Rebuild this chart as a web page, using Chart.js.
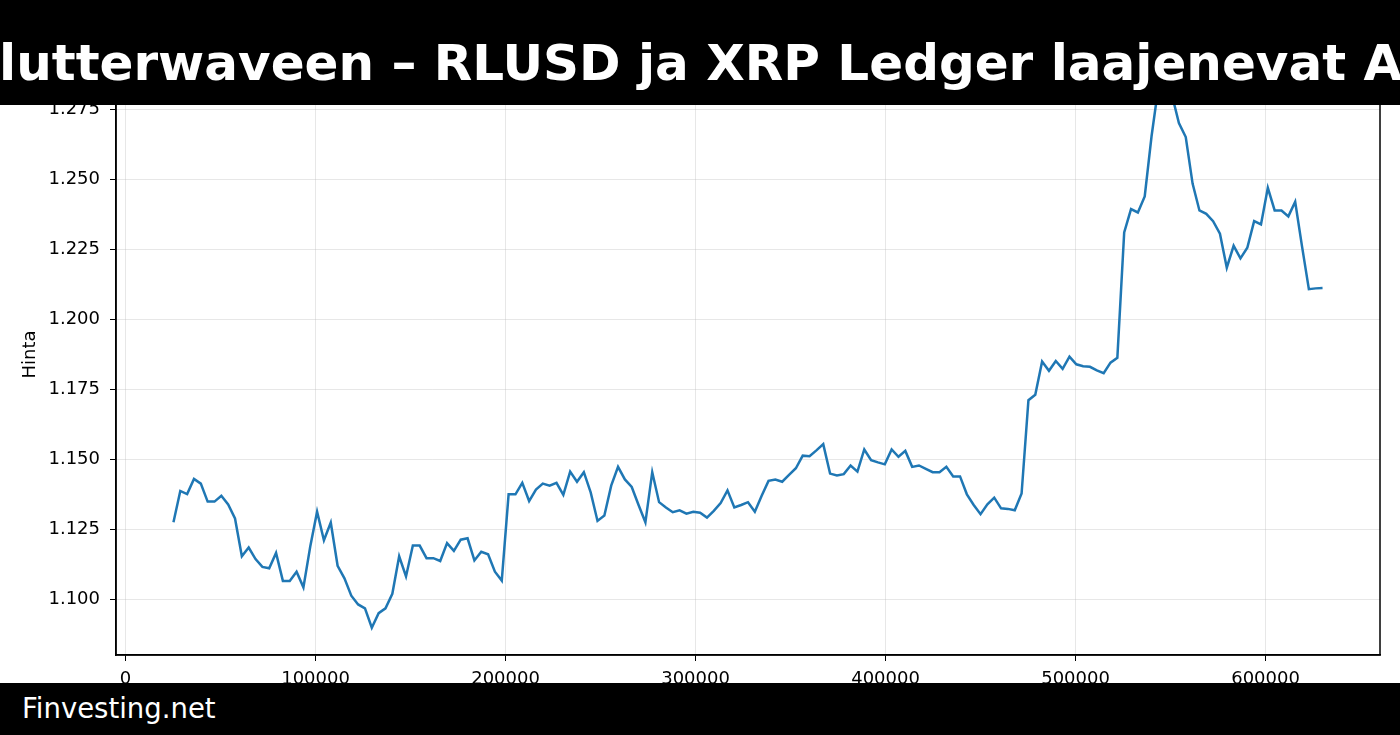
<!DOCTYPE html>
<html>
<head>
<meta charset="utf-8">
<script src="https://cdn.jsdelivr.net/npm/chart.js@4.4.1/dist/chart.umd.min.js"></script>
<style>
    body { margin: 0; background: #fff; overflow: hidden; }
    #wrap { position: relative; width: 1400px; height: 735px; overflow: hidden; }
    #titleBar { position: absolute; left: 0; top: 0; width: 1400px; height: 105px; background: #000; overflow: hidden; }
    #titleText { position: absolute; left: -1px; top: 38px; white-space: nowrap; color: #fff;
        font: bold 50px "DejaVu Sans"; line-height: 50px; }
    #footer { position: absolute; left: 0; top: 683px; width: 1400px; height: 52px; background: #000; }
    #footerText { position: absolute; left: 22px; top: 11px; color: #fff; font: 27.5px "DejaVu Sans"; line-height: 28px; }
</style>
</head>
<body>
<div id="wrap">
    <canvas id="priceChart" width="1400" height="735"></canvas>
    <div id="titleBar"><span id="titleText">lutterwaveen – RLUSD ja XRP Ledger laajenevat A</span></div>
    <div id="footer"><span id="footerText">Finvesting.net</span></div>
</div>
<script>
// hourly samples, x is seconds
const startSeconds = 25200;
const stepSeconds = 3600;

const prices = [
    1.1276, 1.1388, 1.1377, 1.1431, 1.1414, 1.1350, 1.1350, 1.1371, 1.1340, 1.1290,
    1.1155, 1.1186, 1.1145, 1.1117, 1.1112, 1.1167, 1.1067, 1.1067, 1.1100, 1.1044,
    1.1190, 1.1314, 1.1212, 1.1275, 1.1121, 1.1076, 1.1014, 1.0983, 1.0969, 1.0900,
    1.0952, 1.0969, 1.1021, 1.1155, 1.1083, 1.1193, 1.1193, 1.1148, 1.1148, 1.1138,
    1.1202, 1.1174, 1.1214, 1.1219, 1.1140, 1.1171, 1.1162, 1.1100, 1.1068, 1.1376,
    1.1376, 1.1417, 1.1352, 1.1393, 1.1414, 1.1407, 1.1417, 1.1374, 1.1457, 1.1421,
    1.1455, 1.1383, 1.1281, 1.1300, 1.1407, 1.1474, 1.1429, 1.1402, 1.1338, 1.1276,
    1.1455, 1.1348, 1.1329, 1.1312, 1.1319, 1.1307, 1.1314, 1.1310, 1.1293, 1.1317,
    1.1345, 1.1390, 1.1329, 1.1338, 1.1348, 1.1314, 1.1371, 1.1424, 1.1429, 1.1421,
    1.1445, 1.1469, 1.1514, 1.1512, 1.1533, 1.1555, 1.1450, 1.1443, 1.1448, 1.1479,
    1.1457, 1.1536, 1.1498, 1.1490, 1.1483, 1.1536, 1.1510, 1.1531, 1.1474, 1.1479,
    1.1467, 1.1455, 1.1455, 1.1474, 1.1440, 1.1440, 1.1376, 1.1338, 1.1305, 1.1340,
    1.1364, 1.1326, 1.1324, 1.1319, 1.1379, 1.1712, 1.1731, 1.1850, 1.1817, 1.1852,
    1.1824, 1.1867, 1.1840, 1.1833, 1.1831, 1.1818, 1.1808, 1.1846, 1.1863, 1.2311,
    1.2394, 1.2382, 1.2439, 1.2654, 1.2830, 1.2850, 1.2800, 1.2701, 1.2651, 1.2485,
    1.2389, 1.2377, 1.2351, 1.2306, 1.2185, 1.2263, 1.2218, 1.2256, 1.2351, 1.2339,
    1.2470, 1.2389, 1.2389, 1.2368, 1.2420, 1.2261, 1.2108, 1.2111, 1.2112
];

const xTicks = [0, 100000, 200000, 300000, 400000, 500000, 600000];
const yTicks = [1.100, 1.125, 1.150, 1.175, 1.200, 1.225, 1.250, 1.275];

const points = prices.map((p, i) => ({ x: startSeconds + i * stepSeconds, y: p }));

const gridColor = 'rgba(176,176,176,0.3)';
const tickFont = { family: 'DejaVu Sans', size: 18 };

// matplotlib style box around the plot
const frame = {
    id: 'frame',
    afterDraw(chart) {
        const a = chart.chartArea;
        const ctx = chart.ctx;
        ctx.save();
        ctx.strokeStyle = '#000';
        ctx.lineWidth = 1.5;
        ctx.strokeRect(a.left, a.top, a.right - a.left, a.bottom - a.top);
        ctx.restore();
    }
};

new Chart(document.getElementById('priceChart'), {
    type: 'line',
    data: {
        datasets: [{
            data: points,
            borderColor: '#1f77b4',
            borderWidth: 2.5,
            pointRadius: 0,
            tension: 0,
            fill: false
        }]
    },
    options: {
        responsive: false,
        animation: false,
        devicePixelRatio: 1,
        layout: { padding: { left: 0, top: 54, right: 20, bottom: 0 } },
        plugins: { legend: { display: false }, tooltip: { enabled: false } },
        scales: {
            x: {
                type: 'linear',
                min: -5040,
                max: 660240,
                afterBuildTicks: (scale) => { scale.ticks = xTicks.map(v => ({ value: v })); },
                afterFit: (scale) => { scale.height = 80; },
                grid: { color: gridColor, tickColor: '#000', tickLength: 6, lineWidth: 1 },
                border: { color: '#000', width: 1.5 },
                ticks: { color: '#000', font: tickFont, padding: 8, maxRotation: 0,
                    callback: (v) => String(v) }
            },
            y: {
                type: 'linear',
                min: 1.08025,
                max: 1.29475,
                afterBuildTicks: (scale) => { scale.ticks = yTicks.map(v => ({ value: v })); },
                afterFit: (scale) => { scale.width = 116; },
                grid: { color: gridColor, tickColor: '#000', tickLength: 6, lineWidth: 1 },
                border: { color: '#000', width: 1.5 },
                ticks: { color: '#000', font: tickFont, padding: 10,
                    callback: (v) => v.toFixed(3) },
                title: { display: true, text: 'Hinta', color: '#000', font: tickFont,
                    padding: { top: 20, bottom: 0 } }
            }
        }
    },
    plugins: [frame]
});
</script>
</body>
</html>
